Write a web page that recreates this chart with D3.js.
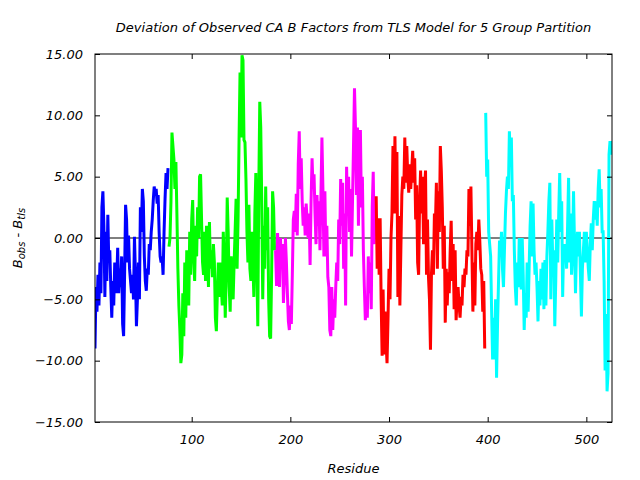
<!DOCTYPE html>
<html>
<head>
<meta charset="utf-8">
<script src="https://cdn.jsdelivr.net/npm/d3@7"></script>
<style>
  html, body { margin: 0; padding: 0; background: #fff; }
  svg { display: block; }
  text { font-family: "DejaVu Sans", sans-serif; font-style: italic; fill: #000; }
</style>
</head>
<body>
<svg id="chart" width="640" height="480"></svg>
<script>
// ---- data ----
const titleText = "Deviation of Observed CA B Factors from TLS Model for 5 Group Partition";
const xLabel = "Residue";
const xTicks = [100, 200, 300, 400, 500];
const yTicks = [-15, -10, -5, 0, 5, 10, 15];
const groupNames = ["Group 1", "Group 2", "Group 3", "Group 4", "Group 5"];
const groupStart = [2, 77, 185, 287, 398];

const group1 = [
  -9.0, -4.0, -6.0, -3.0, -5.5, -2.0, -4.5, 2.5, 3.8, 1.0,
  -4.8, 0.5, -3.5, 1.9, -2.0, -1.0, -4.0, -6.5, -3.5, -5.5,
  -2.0, -4.5, -3.5, -0.8, -4.5, -2.5, -4.0, -1.5, -7.0, -8.0,
  -3.0, 2.7, 1.5, -2.0, 0.2, -2.5, -3.5, -4.5, -3.0, -5.0,
  0.1, -3.0, -7.2, -5.0, -2.0, -5.0, 2.5, 0.5, 4.0, 3.0,
  -1.5, -3.5, -4.3, -2.5, -3.0, -0.5, -1.0, 0.5, 1.5, 3.0,
  4.2, 3.5, 4.0, 2.8, 3.5, 0.5, -1.5, -2.0, -1.5, -3.0,
  0.5, 3.2, 5.3, 4.0, 5.7
];
const group2 = [
  -0.7, 0.0, 3.0, 8.6, 7.5, 6.4, 4.0, 6.2, 2.0, -2.5,
  -5.5, -7.5, -10.2, -9.5, -4.5, -8.0, -2.0, -6.5, -1.0, -2.5,
  -5.5, 0.5, -3.0, 1.5, 3.1, -1.5, -3.5, 1.0, -1.5, 2.5,
  0.0, 5.0, 5.2, 1.5, -2.0, -3.0, 0.5, -3.5, 1.0, -1.0,
  -4.0, 1.3, -2.5, -1.0, -3.2, -0.5, -2.0, -6.5, -7.6, -4.5,
  -2.0, -4.8, -2.0, -4.0, -5.5, 0.5, -2.0, -6.5, -3.0, 3.3,
  0.5, -4.0, -6.0, -1.5, -3.5, -5.0, -2.0, 0.5, 3.2, -2.5,
  1.5, 8.0, 13.5, 8.2, 14.9, 14.5, 8.0, 7.8, 4.8, 0.5,
  -2.0, 2.7, -2.5, -3.5, 0.5, -2.0, -4.8, 2.0, 5.3, -2.5,
  -7.2, 4.0, 11.1, 9.0, 3.0, -5.0, 1.0, -2.5, 4.2, -1.0,
  2.5, -5.0, -8.0, -8.2, -3.0, 3.8, 2.5, -1.0
];
const group3 = [
  -1.0, -3.9, 0.4, -1.5, -4.0, 0.0, -2.5, -0.5, -5.3, -3.0,
  0.0, -2.0, -4.5, -6.8, -7.5, -5.5, -7.0, -3.0, 1.5, 2.2,
  0.5, 3.6, 0.2, 6.0, 8.7, 4.0, 6.5, 3.0, 1.0, 2.5,
  0.2, 2.8, 1.5, 0.0, 2.0, -2.2, 3.0, 6.5, 4.0, 5.2,
  2.0, -0.5, 3.5, 1.0, 3.0, -1.0, 3.5, 8.2, 4.0, -1.5,
  3.8, -1.5, 1.0, -3.2, -4.0, -7.5, -8.0, -4.0, -7.5, -5.0,
  -6.5, -4.0, -2.0, -3.5, 1.5, -0.5, 4.8, 1.0, 4.5, -2.5,
  2.0, -5.5, 5.8, 2.0, 5.0, 0.5, 4.0, -1.5, 3.0, 7.5,
  12.2, 9.0, 3.5, 9.0, 1.0, 7.0, 8.8, 2.5, 5.0, -1.0,
  -4.0, -6.7, -5.0, -6.5, -1.5, -4.5, -2.0, -5.8, 2.5, 5.4,
  -0.5, 2.0
];
const group4 = [
  3.4, -2.5, 1.6, -3.0, 1.6, -5.0, -9.6, -4.2, -9.5, -6.0,
  -8.5, -10.2, -6.5, -2.5, -5.0, 0.0, 2.0, 7.5, 2.0, 8.3,
  2.0, 7.0, -4.8, 1.8, -5.5, -1.0, 3.5, 5.0, 4.0, 8.2,
  4.5, 7.5, 5.0, 3.7, 6.0, 4.0, 5.5, 7.1, 4.5, 6.5,
  1.5, 4.3, -2.0, -3.0, 3.0, 5.5, 2.0, 5.0, -0.5, 4.0,
  5.5, -3.0, 1.5, -3.2, -5.0, -9.1, -3.0, -1.0, -3.0, 2.0,
  1.0, 4.5, -2.5, 3.8, 0.5, 7.5, 5.5, 2.5, -2.5, 1.0,
  -6.9, -2.5, -5.5, -2.8, -4.5, -1.0, 1.4, -3.5, -0.5, -5.8,
  -1.0, -6.7, -5.0, -4.0, -5.5, -6.5, -4.8, -5.5, -3.0, -4.0,
  -2.5, -3.0, -1.0, -1.5, 4.0, 1.0, 4.2, -1.0, -6.0, -2.0,
  -5.5, -0.5, 0.5, -1.0, 1.5, -0.2, -2.5, -3.0, -6.0, -3.5,
  -9.0
];
const group5 = [
  10.2, 5.0, 6.4, 0.5, -0.5, -1.5, -6.0, -9.9, -6.5, -9.9,
  -5.0, -11.4, -7.0, -3.5, -0.2, -1.5, 0.5, -2.5, -4.0, -1.0,
  2.0, 3.8, 5.0, 4.0, 8.7, 6.0, 8.2, 3.0, 3.5, -1.0,
  -4.0, -5.5, -2.0, -4.0, 0.0, -2.0, -4.2, 0.0, -3.0, -7.5,
  -4.5, -6.5, -2.0, -6.0, -2.5, 1.0, 3.0, -1.5, 2.8, -1.0,
  -3.0, -2.0, -4.0, -6.8, -3.5, -5.5, -2.5, -5.0, -2.0, -5.8,
  -1.8, -5.5, -1.5, 0.5, 3.0, 4.5, -5.0, 1.5, -2.0, -1.0,
  -7.2, -3.5, 1.5, -2.0, 2.0, 5.3, 0.5, 3.0, -4.8, -0.5,
  -1.5, -0.5, -2.5, 1.0, 4.9, -2.0, 2.0, -3.0, -1.0, 3.8,
  -0.5, -4.5, -1.0, 0.5, -1.5, 0.5, -3.0, -6.4, -2.5, -1.0,
  0.5, -2.0, 0.5, -1.0, -2.5, -3.5, -0.5, 1.2, -1.0, 1.5,
  3.0, 1.5, 3.0, 1.0, 4.0, 5.6, 2.5, 4.0, 0.5, 0.5,
  -3.5, -10.8, -6.2, -12.5, -11.0, 6.8, 7.9, 6.8, 7.9
];
const groupValues = [group1, group2, group3, group4, group5];
const groupColors = ["#0000ff", "#00ff00", "#ff00ff", "#ff0000", "#00ffff"];

// ---- layout ----
const W = 640, H = 480;
const mLeft = 95, mRight = 612, mTop = 54, mBottom = 422;
const svg = d3.select("#chart");

const series = groupValues.map((vals, g) =>
  vals.map((v, i) => ({ r: groupStart[g] + i, v })));
const lastGroup = series[series.length - 1];
const xMin = series[0][0].r, xMax = lastGroup[lastGroup.length - 1].r;

const x = d3.scaleLinear().domain([xMin, xMax]).range([mLeft, mRight]);
const y = d3.scaleLinear().domain([-15, 15]).range([mBottom, mTop]);

svg.append("rect").attr("width", W).attr("height", H).attr("fill", "#fff");

// zero line
svg.append("line")
  .attr("x1", mLeft).attr("x2", mRight)
  .attr("y1", y(0)).attr("y2", y(0))
  .attr("stroke", "#000").attr("stroke-width", 1);

// data
svg.append("defs").append("clipPath").attr("id", "clip")
  .append("rect").attr("x", mLeft).attr("y", mTop)
  .attr("width", mRight - mLeft).attr("height", mBottom - mTop);

const line = d3.line().x(d => x(d.r)).y(d => y(d.v));
svg.append("g").attr("clip-path", "url(#clip)")
  .selectAll("path").data(series).join("path")
  .attr("d", line)
  .attr("fill", "none")
  .attr("stroke", (d, i) => groupColors[i])
  .attr("stroke-width", 3)
  .attr("stroke-linejoin", "miter");

// axes
const fmt = d3.format(".2f");
const tickLen = 5;
const gx = svg.append("g").attr("transform", `translate(0,${mBottom})`)
  .call(d3.axisBottom(x).tickValues(xTicks).tickSize(-tickLen).tickPadding(13).tickFormat(d3.format("d")));
const gxTop = svg.append("g").attr("transform", `translate(0,${mTop})`)
  .call(d3.axisTop(x).tickValues(xTicks).tickSize(-tickLen).tickFormat(""));
const gy = svg.append("g").attr("transform", `translate(${mLeft},0)`)
  .call(d3.axisLeft(y).tickValues(yTicks).tickSize(-tickLen).tickPadding(12).tickFormat(fmt));
const gyR = svg.append("g").attr("transform", `translate(${mRight},0)`)
  .call(d3.axisRight(y).tickValues(yTicks).tickSize(-tickLen).tickFormat(""));

[gx, gxTop, gy, gyR].forEach(g => {
  g.select(".domain").remove();
  g.selectAll("line").attr("stroke", "#000").attr("stroke-width", 1);
  g.selectAll("text").attr("font-size", 13).attr("font-family", "DejaVu Sans").attr("font-style", "italic").attr("fill", "#000");
});

// border
svg.append("rect")
  .attr("x", mLeft).attr("y", mTop)
  .attr("width", mRight - mLeft).attr("height", mBottom - mTop)
  .attr("fill", "none").attr("stroke", "#000").attr("stroke-width", 1);

// title
svg.append("text")
  .attr("x", (mLeft + mRight) / 2).attr("y", 32)
  .attr("text-anchor", "middle").attr("font-size", 13)
  .text(titleText);

// x label
svg.append("text")
  .attr("x", (mLeft + mRight) / 2).attr("y", 473)
  .attr("text-anchor", "middle").attr("font-size", 13)
  .text(xLabel);

// y label with subscripts
const yl = svg.append("text")
  .attr("transform", `translate(22,${(mTop + mBottom) / 2}) rotate(-90)`)
  .attr("text-anchor", "middle").attr("font-size", 13);
yl.append("tspan").text("B");
yl.append("tspan").attr("font-size", 10).attr("dy", 3).text("obs");
yl.append("tspan").attr("dy", -3).text(" - B");
yl.append("tspan").attr("font-size", 10).attr("dy", 3).text("tls");
</script>
</body>
</html>
